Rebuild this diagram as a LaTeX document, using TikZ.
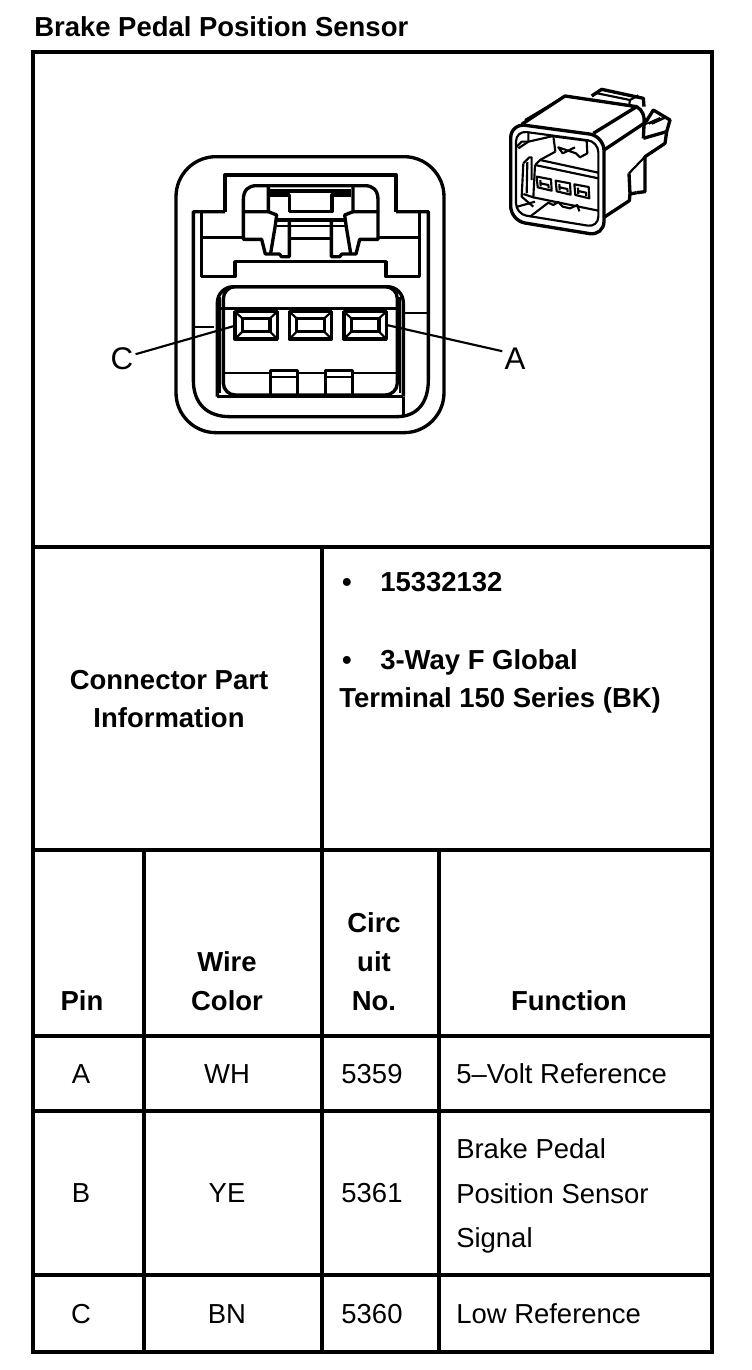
\documentclass[tikz,border=0pt]{standalone}
\usepackage{fontspec}
\setmainfont{Liberation Sans}
\usetikzlibrary{calc, positioning}

\tikzset{
    lbl/.style={inner sep=0pt, anchor=base, font=\fontsize{20.6}{24}\selectfont\bfseries},
    lblw/.style={lbl, anchor=base west},
    txt/.style={inner sep=0pt, anchor=base, font=\fontsize{20.6}{24}\selectfont},
    txtw/.style={txt, anchor=base west},
    tag/.style={inner sep=0pt, anchor=base, font=\fontsize{23.5}{26}\selectfont},
    grid/.style={line width=2.6pt, line cap=rect},
    bold/.style={line width=2.5pt, line join=round},
    thin/.style={line width=1.6pt, line join=round},
    fine/.style={line width=1.1pt, line join=round}
}

\begin{document}
\begin{tikzpicture}[x=0.75pt, y=-0.75pt]

    \useasboundingbox (0,0) rectangle (752,1370);

    % Titre
    \node[lblw] (title) at (34,37) {Brake Pedal Position Sensor};

    % Cadre et tableau
    \draw[grid] (33,52) rectangle (712,1352);
    \foreach \y in {547, 850, 1036, 1111, 1275} {
        \draw[grid] (33,\y) -- (712,\y);
    }
    \draw[grid] (322,547) -- (322,1352);
    \draw[grid] (144,850) -- (144,1352);
    \draw[grid] (439,850) -- (439,1352);

    % Grand connecteur
    \begin{scope}[shift={(160,140)}, x=0.25pt, y=-0.25pt]
        \draw[bold, rounded corners=30pt] (48,50) rectangle (852,878);
        % corps
        \draw[bold] (195,215) -- (100,215) -- (100,720)
            .. controls (100,790) and (140,830) .. (210,830) -- (710,830)
            .. controls (770,830) and (805,790) .. (805,720) -- (805,215) -- (708,215);
        \draw[bold] (195,215) -- (195,105) -- (708,105) -- (708,215);
        \draw[bold] (125,215) -- (125,410) -- (225,410) -- (225,365) -- (678,365)
            -- (678,410) -- (778,410) -- (778,215);
        \draw[bold] (125,292) -- (250,292);
        \draw[bold] (655,292) -- (778,292);
        \draw[thin] (100,560) -- (162,560);
        \draw[thin] (735,520) -- (805,520);
        \draw[bold] (172,770) -- (730,770);
        \draw[bold] (730,770) -- (730,825);
        % verrou gauche
        \draw[bold] (325,215) -- (250,215) -- (250,180)
            .. controls (250,150) and (265,137) .. (290,137) -- (614,137)
            .. controls (639,137) and (654,150) .. (654,180) -- (654,215) -- (579,215);
        \draw[bold] (325,137) -- (325,215) -- (350,225) -- (345,262) -- (332,340);
        \draw[bold] (579,137) -- (579,215) -- (554,225) -- (559,262) -- (572,340);
        \draw[bold] (250,215) -- (250,298) -- (305,298) -- (316,342) -- (358,342)
            -- (365,350) -- (388,350) -- (388,240);
        \draw[bold] (654,215) -- (654,298) -- (599,298) -- (588,342) -- (546,342)
            -- (539,350) -- (514,350) -- (514,240);
        \draw[thin] (330,150) -- (574,150);
        \draw[thin] (330,156) -- (390,156);
        \draw[thin] (516,156) -- (574,156);
        \draw[bold] (330,165) -- (388,165) -- (388,215) -- (516,215) -- (516,165) -- (574,165);
        \draw[bold] (388,155) -- (516,155);
        \draw[bold] (345,240) -- (559,240);
        \draw[thin] (345,258) -- (559,258);
        \draw[bold] (388,295) -- (514,295);
        % fenetre
        \draw[bold, rounded corners=12pt] (172,770) -- (172,440) -- (730,440) -- (730,770);
        \draw[bold, rounded corners=9pt] (190,440) rectangle (712,765);
        \draw[thin] (181,470) -- (181,760);
        \draw[thin] (721,470) -- (721,760);
        \draw[bold] (180,505) -- (722,505);
        \draw[thin] (190,700) -- (332,700);
        \draw[thin] (410,700) -- (497,700);
        \draw[thin] (578,700) -- (712,700);
        % ergots
        \foreach \x in {332, 497} {
            \draw[bold] (\x,765) -- (\x,692) -- ($(\x,692)+(80,0)$) -- ($(\x,765)+(80,0)$);
            \draw[thin] (\x,710) -- ($(\x,710)+(80,0)$);
        }
        % broches
        \foreach \x in {225, 388, 552} {
            \draw[bold] (\x,515) rectangle ($(\x,597)+(127,0)$);
            \draw[bold] ($(\x,535)+(22,0)$) rectangle ($(\x,575)+(105,0)$);
            \draw[thin] (\x,515) -- ($(\x,535)+(22,0)$);
            \draw[thin] ($(\x,515)+(127,0)$) -- ($(\x,535)+(105,0)$);
            \draw[thin] (\x,597) -- ($(\x,575)+(22,0)$);
            \draw[thin] ($(\x,597)+(127,0)$) -- ($(\x,575)+(105,0)$);
        }
        \coordinate (pinC) at (222,558);
        \coordinate (pinA) at (680,555);
    \end{scope}

    % Reperes
    \node[tag] (labelC) at (122,369) {C};
    \node[tag] (labelA) at (515,369) {A};
    \draw[thin] (labelC.east) ++(2,-4) -- (pinC);
    \draw[thin] (labelA.west) ++(-2,-7) -- (pinA);

    % Petit connecteur
    \begin{scope}[shift={(490,70)}, x=0.25pt, y=-0.25pt]
        % face avant
        \draw[bold, rounded corners=11pt] (62,160) -- (342,198) -- (342,498) -- (62,452) -- cycle;
        \draw[thin, rounded corners=8pt] (78,182) -- (325,215) -- (325,472) -- (78,432) -- cycle;
        % dessus
        \draw[bold] (95,163) -- (225,78) -- (440,110) -- (310,190);
        \draw[thin] (105,150) -- (215,85);
        \draw[bold] (440,110) .. controls (458,120) and (465,140) .. (462,160) -- (342,240);
        % languette arriere
        \draw[bold] (305,78) -- (335,58) -- (460,85) -- (462,110);
        \draw[thin] (322,70) -- (420,90) -- (445,76);
        \draw[thin] (420,90) -- (418,102);
        % languette droite
        \draw[bold] (460,205) -- (462,165) -- (490,120) -- (540,150) -- (530,185) -- (460,205);
        \foreach \x in {0, 9, 18} {
            \draw[fine] ($(468,170)+(\x,-8)$) -- ($(510,145)+(\x,-2)$);
        }
        \draw[bold] (530,185) -- (525,220) -- (465,260) -- (465,365) -- (440,368);
        \draw[thin] (417,310) -- (465,260);
        \draw[bold] (417,310) -- (420,372) -- (440,368);
        \draw[bold] (342,442) -- (418,392) -- (420,372);
        % interieur
        \draw[thin] (85,235) -- (115,215) -- (115,185);
        \draw[thin] (115,215) -- (190,198);
        \draw[thin] (78,232) -- (95,215) -- (115,215);
        \draw[thin] (190,198) -- (196,245);
        \draw[thin] (196,200) -- (290,212) -- (292,250) -- (270,262) -- (258,250)
            -- (205,232) -- (218,250) -- (255,232);
        \draw[thin] (150,270) -- (325,308);
        \draw[thin] (196,245) -- (150,270) -- (135,285);
        \draw[thin] (135,285) -- (325,325);
        \draw[thin] (135,285) -- (130,382) -- (100,372);
        \draw[thin] (130,382) -- (325,422);
        \draw[thin] (100,280) -- (118,262) -- (125,262) -- (125,330);
        \draw[thin] (100,280) -- (95,380) -- (130,410);
        \draw[thin] (112,276) -- (110,370);
        \draw[thin] (120,440) -- (175,398) -- (190,405) -- (205,396) -- (218,410)
            -- (240,415) -- (262,405) -- (268,424);
        \draw[thin] (82,410) -- (135,395);
        % broches
        \foreach \x/\y in {140/320, 197/332, 253/343} {
            \draw[thin] (\x,\y) -- ($(\x,\y)+(43,8)$) -- ($(\x,\y)+(45,42)$) -- ($(\x,\y)+(3,32)$) -- cycle;
            \draw[thin] ($(\x,\y)+(11,20)$) -- ($(\x,\y)+(35,25)$) -- ($(\x,\y)+(36,35)$);
            \draw[thin] ($(\x,\y)+(11,10)$) -- ($(\x,\y)+(12,29)$);
        }
    \end{scope}

    % Information connecteur
    \node[lbl] (infoA) at (169,689) {Connector Part};
    \node[lbl] (infoB) at (169,727) {Information};
    \node[lbl] (bulletA) at (347,591) {•};
    \node[lblw] (partNo) at (380,591) {15332132};
    \node[lbl] (bulletB) at (347,669) {•};
    \node[lblw] (wayA) at (380,669) {3-Way F Global};
    \node[lblw] (wayB) at (339,707) {Terminal 150 Series (BK)};

    % En-tetes
    \node[lbl] (headPin) at (82,1010) {Pin};
    \node[lbl] (headWire) at (227,971) {Wire};
    \node[lbl] (headColor) at (227,1010) {Color};
    \node[lbl] (headCircA) at (374,932) {Circ};
    \node[lbl] (headCircB) at (374,971) {uit};
    \node[lbl] (headCircC) at (374,1010) {No.};
    \node[lbl] (headFunc) at (569,1010) {Function};

    % Lignes
    \foreach \name/\pin/\wire/\circ/\y in {A/A/WH/5359/1083, B/B/YE/5361/1202, C/C/BN/5360/1323} {
        \node[txt] (pin\name) at (81,\y) {\pin};
        \node[txt] (wire\name) at (227,\y) {\wire};
        \node[txt] (circ\name) at (372,\y) {\circ};
    }
    \node[txtw] (funcA) at (456,1083) {5–Volt Reference};
    \node[txtw] (funcBa) at (456,1158) {Brake Pedal};
    \node[txtw] (funcBb) at (456,1203) {Position Sensor};
    \node[txtw] (funcBc) at (456,1247) {Signal};
    \node[txtw] (funcC) at (456,1323) {Low Reference};

\end{tikzpicture}
\end{document}
